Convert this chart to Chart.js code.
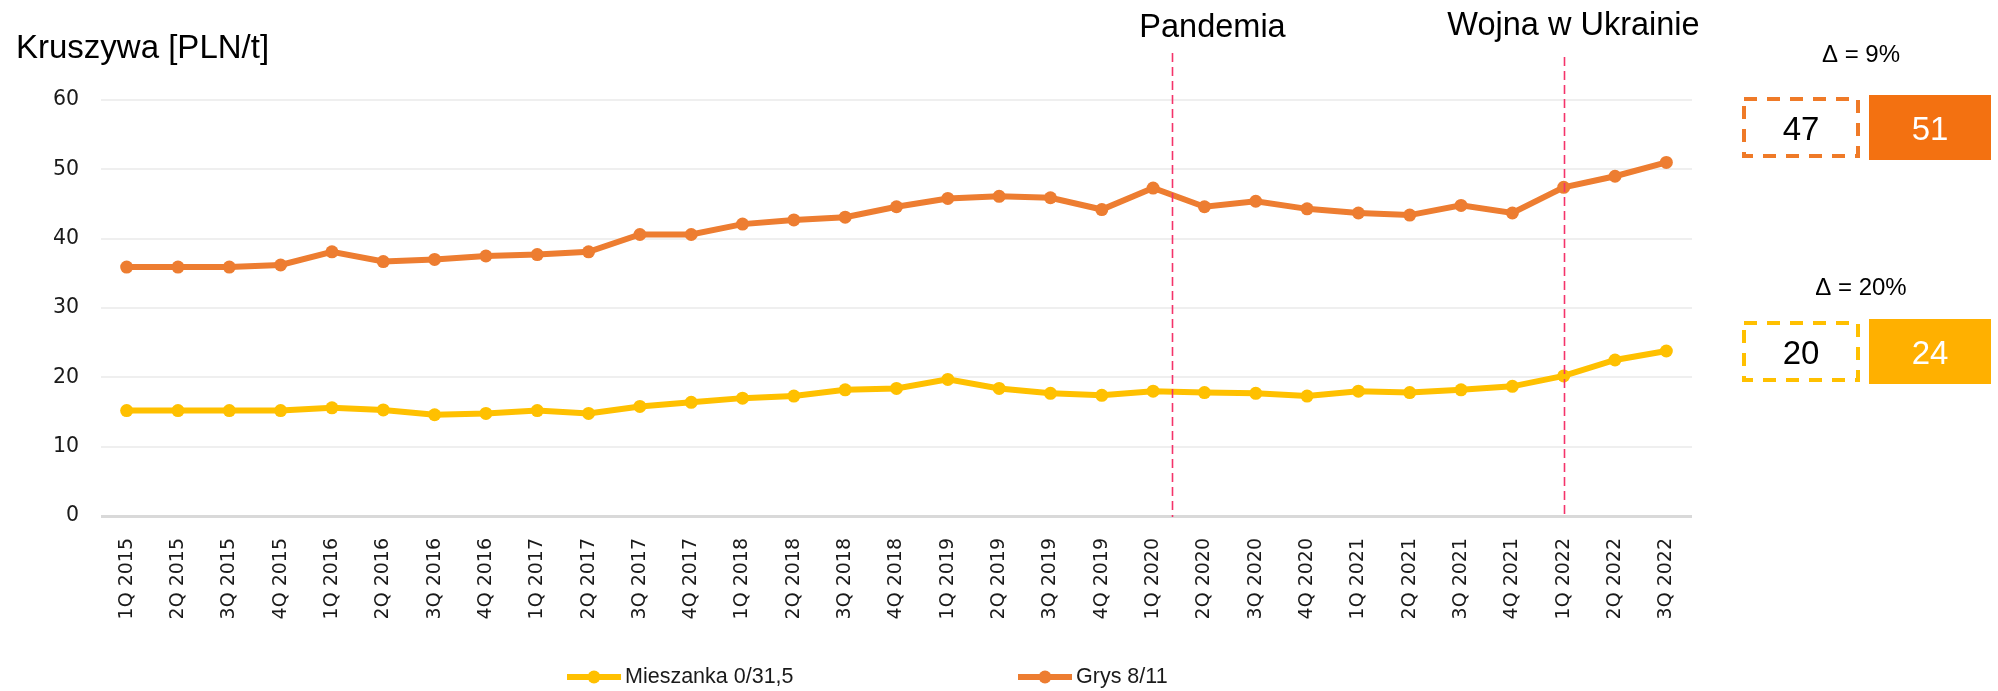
<!DOCTYPE html>
<html>
<head>
<meta charset="utf-8">
<script src="https://cdn.jsdelivr.net/npm/chart.js@4.4.0/dist/chart.umd.min.js"></script>
<style>
  html, body { margin: 0; padding: 0; background: #fff; }
  #wrap { width: 1998px; height: 691px; }
</style>
</head>
<body>
<div id="wrap"><canvas id="myChart" width="1998" height="691"></canvas></div>
<script>
// data
const quarters = [
  '1Q 2015', '2Q 2015', '3Q 2015', '4Q 2015',
  '1Q 2016', '2Q 2016', '3Q 2016', '4Q 2016',
  '1Q 2017', '2Q 2017', '3Q 2017', '4Q 2017',
  '1Q 2018', '2Q 2018', '3Q 2018', '4Q 2018',
  '1Q 2019', '2Q 2019', '3Q 2019', '4Q 2019',
  '1Q 2020', '2Q 2020', '3Q 2020', '4Q 2020',
  '1Q 2021', '2Q 2021', '3Q 2021', '4Q 2021',
  '1Q 2022', '2Q 2022', '3Q 2022'
];
const mieszanka = [
  15.2, 15.2, 15.2, 15.2, 15.6, 15.3, 14.6, 14.8,
  15.2, 14.8, 15.8, 16.4, 17.0, 17.3, 18.2, 18.4,
  19.7, 18.4, 17.7, 17.4, 18.0, 17.8, 17.7, 17.3,
  18.0, 17.8, 18.2, 18.7, 20.2, 22.5, 23.8
];
const grys = [
  35.9, 35.9, 35.9, 36.2, 38.1, 36.7, 37.0, 37.5,
  37.7, 38.1, 40.6, 40.6, 42.1, 42.7, 43.1, 44.6,
  45.8, 46.1, 45.9, 44.2, 47.3, 44.6, 45.4, 44.3,
  43.7, 43.4, 44.8, 43.7, 47.4, 49.0, 51.0
];
const seriesNames = ['Mieszanka 0/31,5', 'Grys 8/11'];
const seriesColors = ['#ffc000', '#ed7d31'];
const yMin = 0, yMax = 60, yStep = 10;
const yTitle = 'Kruszywa [PLN/t]';

// events marked with dashed lines (category index)
const eventNames = ['Pandemia', 'Wojna w Ukrainie'];
const eventAt = [20.37, 28];

// side boxes: value before war -> latest value
const boxFrom = [47, 20];
const boxTo = [51, 24];
const deltaLabels = ['\u0394 = 9%', '\u0394 = 20%'];
const boxDashColors = ['#ef7a28', '#ffc000'];
const boxFillColors = ['#f37111', '#ffb000'];

const SANS = '"Liberation Sans", Arial, sans-serif';
const TICKS = '"DejaVu Sans", sans-serif';

const extras = {
  id: 'extras',
  afterDatasetsDraw(chart) {
    const { ctx, chartArea, scales: { x } } = chart;
    ctx.save();

    // title
    ctx.fillStyle = '#000';
    ctx.font = '33px ' + SANS;
    ctx.textAlign = 'left';
    ctx.textBaseline = 'alphabetic';
    ctx.fillText(yTitle, 16, 58);

    // event lines + labels
    const lineTop = [53, 57];
    const textDx = [40, 9];
    const textY = [37, 35];
    eventNames.forEach((name, i) => {
      const px = Math.round(x.getPixelForValue(eventAt[i])) + 0.5;
      ctx.strokeStyle = '#f4336a';
      ctx.lineWidth = 1.6;
      ctx.setLineDash([9, 5]);
      ctx.beginPath();
      ctx.moveTo(px, lineTop[i]);
      ctx.lineTo(px, chartArea.bottom + 1);
      ctx.stroke();
      ctx.setLineDash([]);
      ctx.fillStyle = '#000';
      ctx.font = '32.5px ' + SANS;
      ctx.textAlign = 'center';
      ctx.fillText(name, px + textDx[i], textY[i]);
    });

    // side boxes
    const bx = chartArea.right + 50;
    const boxTops = [97, 321];
    const deltaY = [61.5, 295];
    boxFrom.forEach((v, i) => {
      const top = boxTops[i];
      ctx.fillStyle = '#000';
      ctx.font = '24px ' + SANS;
      ctx.textAlign = 'center';
      ctx.fillText(deltaLabels[i], bx + 119, deltaY[i]);

      ctx.strokeStyle = boxDashColors[i];
      ctx.lineWidth = 4;
      ctx.setLineDash([13, 10]);
      ctx.strokeRect(bx + 2, top + 2, 114, 57);
      ctx.setLineDash([]);

      ctx.fillStyle = boxFillColors[i];
      ctx.fillRect(bx + 127, top - 2, 122, 65);

      ctx.font = '33px ' + SANS;
      ctx.fillStyle = '#000';
      ctx.fillText(String(v), bx + 59, top + 43);
      ctx.fillStyle = '#fff';
      ctx.fillText(String(boxTo[i]), bx + 188, top + 43);
    });

    // legend
    const legX = [567, 1018];
    const legY = 677;
    chart.data.datasets.forEach((ds, i) => {
      ctx.strokeStyle = ds.borderColor;
      ctx.lineWidth = 6;
      ctx.beginPath();
      ctx.moveTo(legX[i], legY);
      ctx.lineTo(legX[i] + 54, legY);
      ctx.stroke();
      ctx.fillStyle = ds.borderColor;
      ctx.beginPath();
      ctx.arc(legX[i] + 27, legY, 6.5, 0, Math.PI * 2);
      ctx.fill();
      ctx.fillStyle = '#1a1a1a';
      ctx.font = '21.5px ' + SANS;
      ctx.textAlign = 'left';
      ctx.textBaseline = 'middle';
      ctx.fillText(ds.label, legX[i] + 58, legY);
      ctx.textBaseline = 'alphabetic';
    });

    ctx.restore();
  }
};

const myChartRef = document.getElementById('myChart').getContext('2d');
new Chart(myChartRef, {
  type: 'line',
  data: {
    labels: quarters,
    datasets: [
      {
        label: seriesNames[0],
        data: mieszanka,
        borderColor: seriesColors[0],
        backgroundColor: seriesColors[0],
        borderWidth: 6,
        pointRadius: 6.5,
        pointBorderWidth: 0,
        pointBackgroundColor: seriesColors[0],
        tension: 0
      },
      {
        label: seriesNames[1],
        data: grys,
        borderColor: seriesColors[1],
        backgroundColor: seriesColors[1],
        borderWidth: 6,
        pointRadius: 6.5,
        pointBorderWidth: 0,
        pointBackgroundColor: seriesColors[1],
        tension: 0
      }
    ]
  },
  options: {
    responsive: false,
    animation: false,
    devicePixelRatio: 1,
    layout: { padding: { top: 100, right: 306, left: 0, bottom: 50 } },
    plugins: {
      legend: { display: false },
      tooltip: { enabled: false }
    },
    scales: {
      x: {
        offset: true,
        grid: { display: false },
        border: { display: false },
        ticks: {
          minRotation: 90,
          maxRotation: 90,
          autoSkip: false,
          padding: 14,
          color: '#1a1a1a',
          font: { family: TICKS, size: 19 }
        },
        afterFit(scale) { scale.height = 125; }
      },
      y: {
        min: yMin,
        max: yMax,
        border: { display: false },
        grid: {
          drawTicks: false,
          color: (c) => (c.tick && c.tick.value === 0 ? '#d9d9d9' : '#efefef'),
          lineWidth: (c) => (c.tick && c.tick.value === 0 ? 3 : 2)
        },
        ticks: {
          stepSize: yStep,
          padding: 22,
          color: '#1a1a1a',
          font: { family: TICKS, size: 20.5 }
        },
        afterFit(scale) { scale.width = 101; }
      }
    }
  },
  plugins: [extras]
});
</script>
</body>
</html>
